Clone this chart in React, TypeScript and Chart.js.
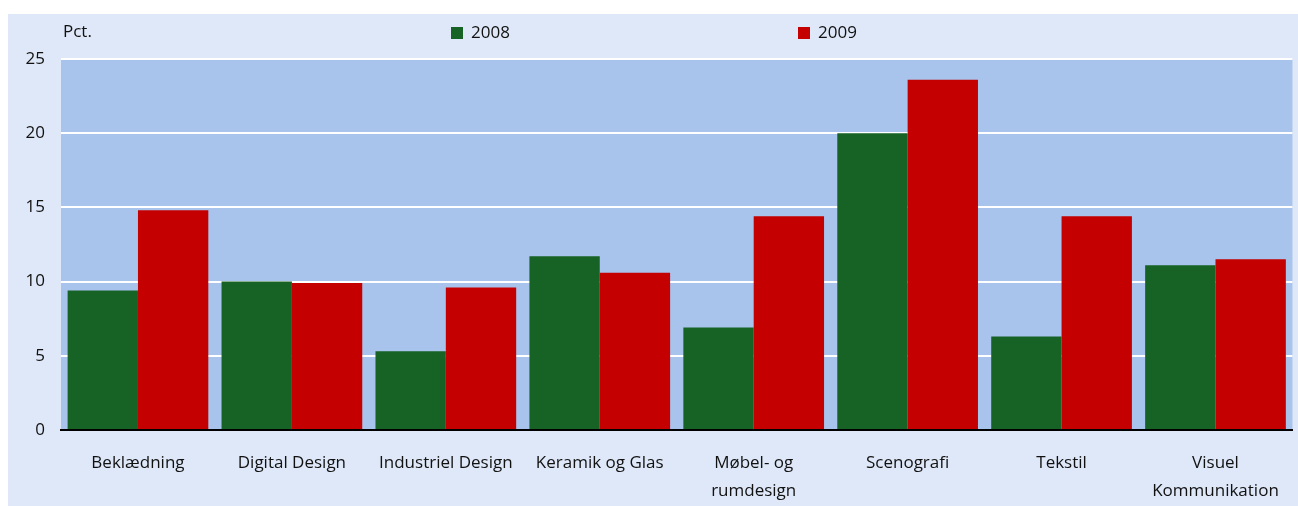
import React, { useEffect, useRef } from "react";
import { Chart, registerables } from "chart.js";

Chart.register(...registerables);

const categories: (string | string[])[] = [
  "Beklædning",
  "Digital Design",
  "Industriel Design",
  "Keramik og Glas",
  ["Møbel- og", "rumdesign"],
  "Scenografi",
  "Tekstil",
  ["Visuel", "Kommunikation"],
];
const values2008 = [9.4, 10.0, 5.3, 11.7, 6.9, 20.0, 6.3, 11.1];
const values2009 = [14.8, 9.9, 9.6, 10.6, 14.4, 23.6, 14.4, 11.5];
const seriesLabels = ["2008", "2009"];
const unitLabel = "Pct.";

const GREEN = "#166325";
const RED = "#c40000";
const OUTER_BG = "#dfe8f8";
const PLOT_BG = "#a8c3ec";
const FONT = "'Open Sans', sans-serif";

export default function App() {
  const ref = useRef<HTMLCanvasElement | null>(null);
  useEffect(() => {
    if (!ref.current) return;
    const bgPlugin = {
      id: "bg",
      beforeDraw(chart: any) {
        const { ctx, chartArea, width, height } = chart;
        ctx.save();
        ctx.fillStyle = OUTER_BG;
        ctx.fillRect(0, 0, width, height);
        ctx.fillStyle = PLOT_BG;
        ctx.fillRect(chartArea.left, chartArea.top, chartArea.right - chartArea.left, chartArea.bottom - chartArea.top);
        ctx.restore();
      },
      afterDraw(chart: any) {
        const { ctx } = chart;
        ctx.save();
        ctx.font = `17px ${FONT}`;
        ctx.fillStyle = "#111";
        ctx.textBaseline = "middle";
        ctx.textAlign = "left";
        ctx.fillText(unitLabel, 55, 18);
        const items = [
          { x: 443, color: GREEN, label: seriesLabels[0] },
          { x: 790, color: RED, label: seriesLabels[1] },
        ];
        for (const it of items) {
          ctx.fillStyle = it.color;
          ctx.fillRect(it.x, 13, 12, 12);
          ctx.fillStyle = "#111";
          ctx.fillText(it.label, it.x + 20, 19);
        }
        ctx.restore();
      },
    };
    const chart = new Chart(ref.current, {
      type: "bar",
      data: {
        labels: categories,
        datasets: [
          { label: seriesLabels[0], data: values2008, backgroundColor: GREEN, borderWidth: 0 },
          { label: seriesLabels[1], data: values2009, backgroundColor: RED, borderWidth: 0 },
        ],
      },
      options: {
        animation: false,
        responsive: false,
        maintainAspectRatio: false,
        layout: { padding: { top: 45, right: 3, left: 0, bottom: 0 } },
        plugins: { legend: { display: false }, tooltip: { enabled: false } },
        datasets: { bar: { categoryPercentage: 0.914, barPercentage: 1 } },
        scales: {
          x: {
            grid: { display: false, drawTicks: false },
            border: { display: true, color: "#000", width: 2 },
            ticks: {
              color: "#111",
              font: { family: FONT, size: 17, lineHeight: 1.65 },
              padding: 19,
              maxRotation: 0,
              autoSkip: false,
            },
            afterFit(scale: any) {
              scale.height = 76;
            },
          },
          y: {
            min: 0,
            max: 25,
            grid: { color: "#ffffff", lineWidth: 2, drawTicks: false },
            border: { display: false },
            ticks: {
              stepSize: 5,
              color: "#111",
              font: { family: FONT, size: 17 },
              padding: 16,
            },
            afterFit(scale: any) {
              scale.width = 53;
            },
          },
        },
      },
      plugins: [bgPlugin],
    });
    return () => chart.destroy();
  }, []);
  return (
    <div style={{ position: "fixed", left: 8, top: 14, width: 1290, height: 492 }}>
      <canvas ref={ref} width={1290} height={492} style={{ width: 1290, height: 492, display: "block" }} />
    </div>
  );
}
